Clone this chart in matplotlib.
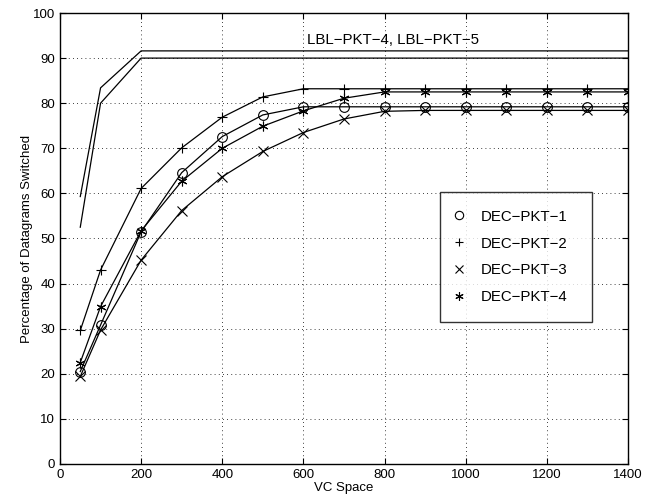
import matplotlib.pyplot as plt
from matplotlib.lines import Line2D

plt.rcParams['font.family'] = ['Liberation Sans', 'DejaVu Sans']

vc = [50, 100, 200, 300, 400, 500, 600, 700, 800, 900, 1000, 1100, 1200, 1300, 1400]

lbl_upper = [59.3, 83.4, 91.6, 91.6, 91.6, 91.6, 91.6, 91.6, 91.6, 91.6, 91.6, 91.6, 91.6, 91.6, 91.6]
lbl_lower = [52.5, 80.0, 90.0, 90.0, 90.0, 90.0, 90.0, 90.0, 90.0, 90.0, 90.0, 90.0, 90.0, 90.0, 90.0]

dec1 = [20.5, 30.8, 51.5, 64.6, 72.6, 77.4, 79.2, 79.2, 79.2, 79.2, 79.2, 79.2, 79.2, 79.2, 79.2]
dec2 = [29.6, 43.0, 61.1, 70.1, 76.9, 81.4, 83.2, 83.2, 83.2, 83.2, 83.2, 83.2, 83.2, 83.2, 83.2]
dec3 = [19.4, 29.7, 45.2, 56.2, 63.7, 69.3, 73.5, 76.5, 78.2, 78.4, 78.4, 78.4, 78.4, 78.4, 78.4]
dec4 = [22.5, 34.9, 51.7, 62.7, 70.0, 74.9, 78.3, 81.1, 82.5, 82.5, 82.5, 82.5, 82.5, 82.5, 82.5]

labels = ['DEC\u2212PKT\u22121', 'DEC\u2212PKT\u22122', 'DEC\u2212PKT\u22123', 'DEC\u2212PKT\u22124']
markers = ['o', '+', 'x', (6, 2, 0)]

fig = plt.figure(figsize=(6.57, 5.04), dpi=100)
ax = fig.add_axes([0.0913, 0.0794, 0.8645, 0.8948])

ax.plot(vc, lbl_upper, color='black', linewidth=0.9)
ax.plot(vc, lbl_lower, color='black', linewidth=0.9)

series = [dec1, dec2, dec3, dec4]
for s, m in zip(series, markers):
    mfc = 'none' if m == 'o' else 'black'
    ax.plot(vc, s, color='black', linewidth=0.9, marker=m, markersize=7,
            markerfacecolor=mfc, markeredgecolor='black', markeredgewidth=0.8)

ax.text(609, 94, 'LBL\u2212PKT\u22124, LBL\u2212PKT\u22125', fontsize=10.8, va='center', ha='left')

handles = []
for m in markers:
    mfc = 'none' if m == 'o' else 'black'
    handles.append(Line2D([], [], linestyle='none', marker=m, markersize=6,
                          markerfacecolor=mfc, markeredgecolor='black', markeredgewidth=0.8))
leg = ax.legend(handles, labels, loc='center', bbox_to_anchor=(0.669, 0.317, 0.268, 0.284),
                mode='expand', fontsize=10.8, fancybox=False, edgecolor='black',
                handlelength=0.2, handletextpad=1.35, labelspacing=0.86, borderpad=1.15,
                borderaxespad=0)
leg.get_frame().set_linewidth(1.0)

ax.set_xlim(0, 1400)
ax.set_ylim(0, 100)
ax.set_xticks(range(0, 1401, 200))
ax.set_yticks(range(0, 101, 10))
ax.grid(True, linestyle=(0, (1, 4)), color='black', linewidth=0.6)
ax.tick_params(direction='in', top=True, right=True, labelsize=9.5, length=4)
for sp in ax.spines.values():
    sp.set_linewidth(1.0)

ax.set_xlabel('VC Space', fontsize=9.5, labelpad=1)
ax.set_ylabel('Percentage of Datagrams Switched', fontsize=9.5, labelpad=0)

plt.savefig('out.png', dpi=100)
